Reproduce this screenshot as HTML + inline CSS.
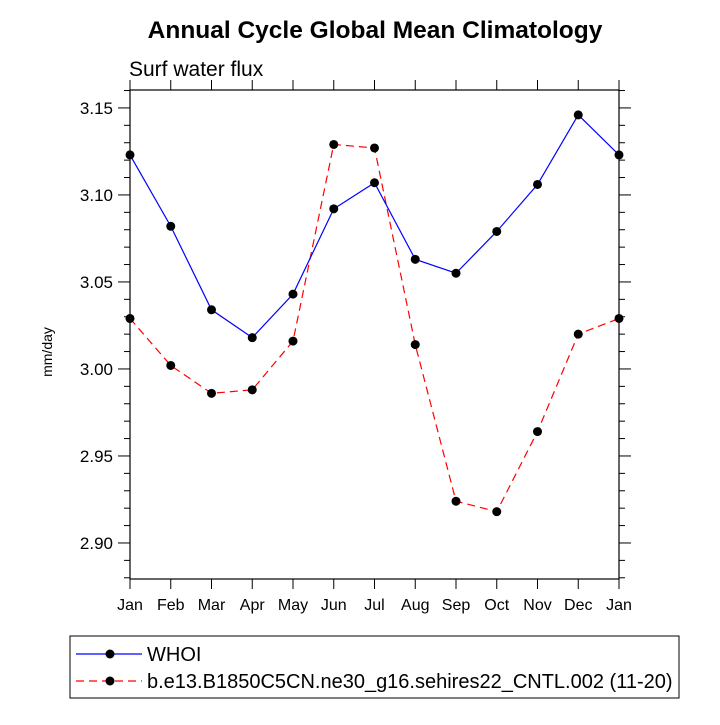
<!DOCTYPE html>
<html><head><meta charset="utf-8"><style>
body{margin:0;background:#fff}
svg{font-family:"Liberation Sans",sans-serif}
</style></head><body>
<svg id="chart" width="720" height="720" xmlns="http://www.w3.org/2000/svg">
<text x="375" y="38" text-anchor="middle" font-size="24.5" font-weight="bold">Annual Cycle Global Mean Climatology</text>
<text x="129" y="76" font-size="21">Surf water flux</text>
<text transform="translate(52,352) rotate(-90)" text-anchor="middle" font-size="14">mm/day</text>
<g id="axes"></g><g id="series"></g>
<rect x="70" y="636" width="609" height="62" fill="none" stroke="#000" stroke-width="1"/>
<g>
<line x1="76" y1="654" x2="142" y2="654" stroke="#0000ff" stroke-width="1.2"/>
<circle cx="110" cy="654" r="4.5" fill="#000"/>
<text x="147" y="661" font-size="20">WHOI</text></g>
<g>
<line x1="76" y1="681" x2="142" y2="681" stroke="#ff0000" stroke-width="1.2" stroke-dasharray="8,5"/>
<circle cx="110" cy="681" r="4.5" fill="#000"/>
<text x="147" y="688" font-size="20">b.e13.B1850C5CN.ne30_g16.sehires22_CNTL.002 (11-20)</text></g>
</svg>
<script>
const months=["Jan","Feb","Mar","Apr","May","Jun","Jul","Aug","Sep","Oct","Nov","Dec","Jan"];
const whoi=[3.123,3.082,3.034,3.018,3.043,3.092,3.107,3.063,3.055,3.079,3.106,3.146,3.123];
const model=[3.029,3.002,2.986,2.988,3.016,3.129,3.127,3.014,2.924,2.918,2.964,3.020,3.029];
const yTicks=[2.90,2.95,3.00,3.05,3.10,3.15];
const NS="http://www.w3.org/2000/svg";
const L=130,R=619,T=90,B=579,yMin=2.8793,yMax=3.1603;
const xs=i=>L+(R-L)*i/(months.length-1);
const ys=v=>B-(v-yMin)/(yMax-yMin)*(B-T);
function mk(tag,attrs,parent){const e=document.createElementNS(NS,tag);for(const k in attrs)e.setAttribute(k,attrs[k]);parent.appendChild(e);return e;}
const ax=document.getElementById('axes');
const frame=mk('rect',{x:L,y:T,width:R-L,height:B-T,fill:'none',stroke:'#000','stroke-width':1.2},ax);


months.forEach((m,i)=>{const x=xs(i);
mk('line',{x1:x,y1:B,x2:x,y2:B+10,stroke:'#000'},ax);
mk('line',{x1:x,y1:T,x2:x,y2:T-10,stroke:'#000'},ax);
const t=mk('text',{x:x,y:B+31,'text-anchor':'middle','font-size':16},ax);t.textContent=m;

});
for(let k=Math.ceil(yMin*100);k<=Math.floor(yMax*100);k++){const v=k/100,y=ys(v);const maj=k%5===0;const len=maj?12:6;
mk('line',{x1:L,y1:y,x2:L-len,y2:y,stroke:'#000'},ax);
mk('line',{x1:R,y1:y,x2:R+len,y2:y,stroke:'#000'},ax);}
yTicks.forEach(v=>{const t=mk('text',{x:L-17,y:ys(v)+6,'text-anchor':'end','font-size':17},ax);t.textContent=v.toFixed(2);

});
const sg=document.getElementById('series');
function draw(data,color,dash,name){
const p=mk('polyline',{points:data.map((v,i)=>xs(i)+','+ys(v)).join(' '),fill:'none',stroke:color,'stroke-width':1.2,'stroke-dasharray':dash},sg);


data.forEach((v,i)=>{const c=mk('circle',{cx:xs(i),cy:ys(v),r:4.5,fill:'#000'},sg);

});}
draw(model,'#ff0000','8,5','model');
draw(whoi,'#0000ff','none','whoi');
</script>
</body></html>
